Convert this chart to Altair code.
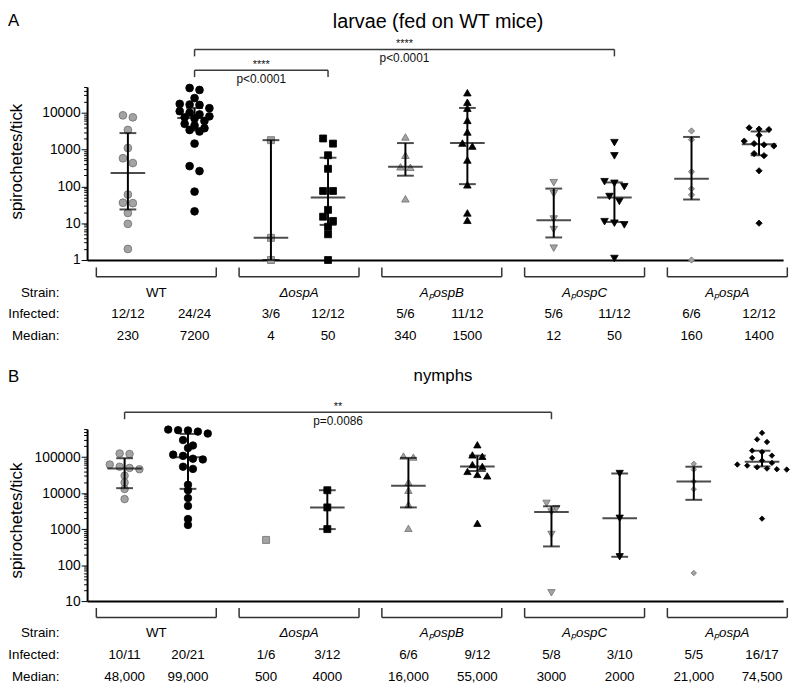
import altair as alt
import numpy as np
import pandas as pd

# ---------------- data ----------------
STRAINS = ["WT", "ΔospA", "AₚospB", "AₚospC", "AₚospA"]

# Panel A: larvae (fed on WT mice) -- spirochetes/tick, columns: gray, black per strain
A_VALUES = [
    [8500, 7500, 3400, 1100, 580, 430, 60, 36, 35, 19, 9.6, 2.0],
    [47000, 41500, 25000, 17400, 16700, 16300, 13300, 11000, 10000, 9000, 8000, 7500,
     7000, 6000, 5000, 4500, 3800, 3400, 3100, 1450, 355, 260, 72, 21],
    [1800, 4, 1],
    [2000, 1450, 700, 300, 75, 75, 23, 15, 11.5, 8, 5, 1],
    [2200, 700, 340, 330, 46],
    [35000, 19300, 13300, 6200, 3000, 1500, 1240, 520, 110, 19, 12],
    [126, 63, 13, 6.7, 2.1],
    [1540, 675, 134, 121, 98, 53, 39, 11, 10, 9, 1.1],
    [3200, 1860, 250, 86, 59, 1],
    [3900, 3600, 3500, 2450, 1700, 1450, 1350, 1250, 780, 680, 265, 10],
]
A_MEDIAN = [230, 7200, 4, 50, 340, 1500, 12, 50, 160, 1400]
A_LO = [23.6, 3300, 1, 9, 195, 115, 4.1, 10.8, 44, 700]
A_HI = [2800, 13500, 1800, 600, 1500, 13500, 87, 128, 2200, 3100]
A_INFECTED = ["12/12", "24/24", "3/6", "12/12", "5/6", "11/12", "5/6", "11/12", "6/6", "12/12"]
A_MEDIAN_TXT = ["230", "7200", "4", "50", "340", "1500", "12", "50", "160", "1400"]
A_SIG = [(1, 7, "****", "p<0.0001"), (1, 3, "****", "p<0.0001")]

# Panel B: nymphs
B_VALUES = [
    [126000, 122000, 62000, 54000, 50000, 46000, 30500, 19600, 13000, 6800],
    [580000, 560000, 550000, 510000, 450000, 297000, 210000, 178000, 117000, 108000,
     90000, 86000, 54000, 47000, 17000, 12000, 7250, 4400, 1900, 1300],
    [500],
    [12000, 4000, 1000],
    [107000, 100000, 20000, 12000, 4800, 1050],
    [220000, 115000, 105000, 62000, 55000, 40000, 33000, 30000, 1450],
    [5200, 3700, 3000, 710, 17],
    [35000, 2000, 170],
    [65000, 45000, 21000, 12800, 60],
    [470000, 310000, 263000, 151000, 138000, 110000, 95000, 80000, 69000, 62000,
     58000, 52000, 48000, 46000, 45000, 1950],
]
B_MEDIAN = [48000, 99000, 500, 4000, 16000, 55000, 3000, 2000, 21000, 74500]
B_LO = [13700, 13100, None, 1000, 4000, 41000, 330, 170, 6500, 55000]
B_HI = [93000, 440000, None, 12000, 95000, 110000, 4300, 35000, 54000, 150000]
B_INFECTED = ["10/11", "20/21", "1/6", "3/12", "6/6", "9/12", "5/8", "3/10", "5/5", "16/17"]
B_MEDIAN_TXT = ["48,000", "99,000", "500", "4000", "16,000", "55,000", "3000", "2000", "21,000", "74,500"]
B_SIG = [(0, 6, "**", "p=0.0086")]

# ---------------- layout ----------------
W = 704
UNIT = 144.4                       # px per strain group
D0 = -(158 - 88) / UNIT
D1 = D0 + W / UNIT
COLX_A = [-0.199, 0.268, 0.803, 1.203, 1.745, 2.179, 2.784, 3.209, 3.749, 4.222]
COLX_B = [-0.222, 0.222, 0.769, 1.198, 1.766, 2.249, 2.768, 3.246, 3.765, 4.243]
SHAPES = ["circle", "square", "triangle-up", "triangle-down", "diamond"]
SIZES_A = [62, 50, 58, 58, 40]
SIZES_B = [58, 50, 55, 55, 30]
GRAY, GRAY_STROKE, BLACK = "#a3a3a3", "#6f6f6f", "#000000"
FONT = "Liberation Sans"
TFONT = "Liberation Sans Narrow, Liberation Sans, Arial, sans-serif"
TSIZE = 13.5

X_SCALE = alt.Scale(domain=[D0, D1], nice=False, zero=False)


def swarm_offsets(vals, px_dec, step_px=10.0, thresh_px=5.5):
    ys = [np.log10(v) * px_dec for v in vals]
    order = sorted(range(len(vals)), key=lambda i: -ys[i])
    bins = []
    for i in order:
        if bins and ys[bins[-1][0]] - ys[i] < thresh_px:
            bins[-1].append(i)
        else:
            bins.append([i])
    off = [0.0] * len(vals)
    for b in bins:
        n = len(b)
        for k, i in enumerate(b):
            off[i] = (k - (n - 1) / 2) * step_px / UNIT
    return off


def plot_chart(values, med, lo, hi, colx, ydomain, height, title_y, sizes, majors):
    px_dec = height / (np.log10(ydomain[1]) - np.log10(ydomain[0]))
    rows = []
    for c, vals in enumerate(values):
        g = c // 2
        offs = swarm_offsets(vals, px_dec)
        for v, o in zip(vals, offs):
            rows.append(dict(x=colx[c] + o, v=v, shape=SHAPES[g],
                             fill=GRAY if c % 2 == 0 else BLACK,
                             stroke=GRAY_STROKE if c % 2 == 0 else BLACK,
                             size=sizes[g]))
    pts = pd.DataFrame(rows)
    stats = pd.DataFrame([dict(x=colx[c], med=med[c], lo=lo[c], hi=hi[c])
                          for c in range(len(values)) if lo[c] is not None])

    e0 = int(round(np.log10(ydomain[0])))
    ticks = []
    for e in range(e0, 7):
        for m in range(1, 10):
            t = m * 10 ** e
            if t <= ydomain[1] + 1e-9:
                ticks.append(t)
    test = " || ".join(f"datum.value == {m}" for m in majors)
    ys = alt.Scale(type="log", domain=ydomain, nice=False)
    y_axis = alt.Axis(
        values=ticks, labelExpr=f"({test}) ? format(datum.value, 'd') : ''",
        tickSize={"condition": {"test": test, "value": 6}, "value": 3.5},
        tickColor="black", tickWidth=1, domainColor="black", domainWidth=2,
        labelFont=FONT, labelFontSize=14, labelColor="black", labelPadding=1,
        labelOverlap=False, grid=False,
        title="spirochetes/tick", titleFont=FONT, titleFontSize=17,
        titleFontWeight="normal", titleColor="black", titleX=-71, titleY=title_y,
        titleAngle=270, titleBaseline="middle", titleAlign="center")
    x_axis = alt.Axis(labels=False, ticks=False, title=None, grid=False,
                      domainColor="black", domainWidth=2)

    xs = alt.X("x:Q", scale=X_SCALE, axis=x_axis)
    Y = lambda f: alt.Y(f, scale=ys, axis=y_axis)
    points = alt.Chart(pts).mark_point(filled=True, opacity=1, strokeWidth=0.8).encode(
        x=xs, y=Y("v:Q"),
        shape=alt.Shape("shape:N", scale=None),
        fill=alt.Fill("fill:N", scale=None),
        stroke=alt.Stroke("stroke:N", scale=None),
        size=alt.Size("size:Q", scale=None),
    )
    base = alt.Chart(stats)
    vline = base.mark_rule(color="black", strokeWidth=2).encode(x=xs, y=Y("lo:Q"), y2="hi:Q")
    cap_lo = base.mark_tick(orient="horizontal", size=17, thickness=2, color="black").encode(
        x=xs, y=Y("lo:Q"))
    cap_hi = base.mark_tick(orient="horizontal", size=17, thickness=2, color="black").encode(
        x=xs, y=Y("hi:Q"))
    med_t = base.mark_tick(orient="horizontal", size=35, thickness=2, color="black").encode(
        x=xs, y=Y("med:Q"))
    return alt.layer(points, vline, cap_lo, cap_hi, med_t).properties(width=W, height=height)


def bracket_chart(sigs, colx, H, lines_y, letter, letter_y, title, title_x, title_y, title_size):
    ysc = alt.Scale(domain=[0, H], reverse=True, nice=False, zero=False)
    df = pd.DataFrame([dict(x1=colx[a], x2=colx[b], xm=(colx[a] + colx[b]) / 2,
                            y=yl, yd=yl + 7, ys=yl - 5, yp=yl + 9, stars=s, p=p)
                       for (a, b, s, p), yl in zip(sigs, lines_y)])
    base = alt.Chart(df)
    X = lambda f: alt.X(f, scale=X_SCALE, axis=None)
    Y = lambda f: alt.Y(f, scale=ysc, axis=None)
    hline = base.mark_rule(color="#3a3a3a", strokeWidth=1.5).encode(x=X("x1:Q"), x2="x2:Q", y=Y("y:Q"))
    l_end = base.mark_rule(color="#3a3a3a", strokeWidth=1.5).encode(x=X("x1:Q"), y=Y("y:Q"), y2="yd:Q")
    r_end = base.mark_rule(color="#3a3a3a", strokeWidth=1.5).encode(x=X("x2:Q"), y=Y("y:Q"), y2="yd:Q")
    stars = base.mark_text(font=FONT, fontSize=11, color="#111").encode(
        x=X("xm:Q"), y=Y("ys:Q"), text="stars:N")
    ptxt = base.mark_text(font=FONT, fontSize=12, color="#111").encode(
        x=X("xm:Q"), y=Y("yp:Q"), text="p:N")
    lab = alt.Chart(pd.DataFrame({"t": [letter], "u": [title]}))
    letter_m = lab.mark_text(font=FONT, fontSize=17, align="left", color="black").encode(
        x=alt.value(-80), y=alt.value(letter_y), text="t:N")
    title_m = lab.mark_text(font=FONT, fontSize=title_size, color="black").encode(
        x=alt.value(title_x), y=alt.value(title_y), text="u:N")
    return alt.layer(hline, l_end, r_end, stars, ptxt, letter_m, title_m).properties(width=W, height=H)


def table_chart(colx, infected, med_txt, H, br_top, br_bot, rows_y):
    ysc = alt.Scale(domain=[0, H], reverse=True, nice=False, zero=False)
    X = lambda f: alt.X(f, scale=X_SCALE, axis=None)
    Y = lambda f: alt.Y(f, scale=ysc, axis=None)
    grp = pd.DataFrame([dict(g=g, x1=g - 0.42, x2=g + 0.42, yt=br_top, yb=br_bot,
                             name=STRAINS[g], ystrain=rows_y[0]) for g in range(5)])
    gb = alt.Chart(grp)
    hline = gb.mark_rule(color="#333", strokeWidth=1.5).encode(x=X("x1:Q"), x2="x2:Q", y=Y("yb:Q"))
    l_end = gb.mark_rule(color="#333", strokeWidth=1.5).encode(x=X("x1:Q"), y=Y("yt:Q"), y2="yb:Q")
    r_end = gb.mark_rule(color="#333", strokeWidth=1.5).encode(x=X("x2:Q"), y=Y("yt:Q"), y2="yb:Q")
    wt = gb.transform_filter("datum.g == 0").mark_text(font=TFONT, fontSize=TSIZE, color="black").encode(
        x=X("g:Q"), y=Y("ystrain:Q"), text="name:N")
    others = gb.transform_filter("datum.g > 0").mark_text(
        font=TFONT, fontSize=TSIZE, fontStyle="italic", color="black").encode(
        x=X("g:Q"), y=Y("ystrain:Q"), text="name:N")
    cols = pd.DataFrame([dict(x=colx[c], inf=infected[c], med=med_txt[c],
                              yi=rows_y[1], ym=rows_y[2]) for c in range(10)])
    cb = alt.Chart(cols)
    inf_t = cb.mark_text(font=TFONT, fontSize=TSIZE, color="black").encode(
        x=X("x:Q"), y=Y("yi:Q"), text="inf:N")
    med_t = cb.mark_text(font=TFONT, fontSize=TSIZE, color="black").encode(
        x=X("x:Q"), y=Y("ym:Q"), text="med:N")
    rl = pd.DataFrame({"lab": ["Strain:", "Infected:", "Median:"], "y": rows_y})
    row_t = alt.Chart(rl).mark_text(font=TFONT, fontSize=TSIZE, align="right", color="black").encode(
        x=alt.value(-28), y=Y("y:Q"), text="lab:N")
    return alt.layer(hline, l_end, r_end, wt, others, inf_t, med_t, row_t).properties(width=W, height=H)


brA = bracket_chart(A_SIG, COLX_A, 76, [38, 59], "A", 9, "larvae (fed on WT mice)", 355, 10, 20)
plotA = plot_chart(A_VALUES, A_MEDIAN, A_LO, A_HI, COLX_A, [1, 50000], 175, 75,
                   SIZES_A, [1, 10, 100, 1000, 10000])
tabA = table_chart(COLX_A, A_INFECTED, A_MEDIAN_TXT, 86, 7.5, 17, [33, 55, 77])
brB = bracket_chart(B_SIG, COLX_B, 85, [68], "B", 32, "nymphs", 360, 31, 17)
plotB = plot_chart(B_VALUES, B_MEDIAN, B_LO, B_HI, COLX_B, [10, 600000], 174, 92,
                   SIZES_B, [10, 100, 1000, 10000, 100000])
tabB = table_chart(COLX_B, B_INFECTED, B_MEDIAN_TXT, 84, 7, 16.5, [32, 55, 77])

chart = alt.vconcat(brA, plotA, tabA, brB, plotB, tabB, spacing=0, bounds="flush").resolve_scale(
    x="independent", y="independent").configure_view(stroke=None).properties(
    padding={"left": 0, "top": 0, "right": 0, "bottom": 0})

chart.save("out.html", embed_options={"renderer": "svg", "actions": False})
